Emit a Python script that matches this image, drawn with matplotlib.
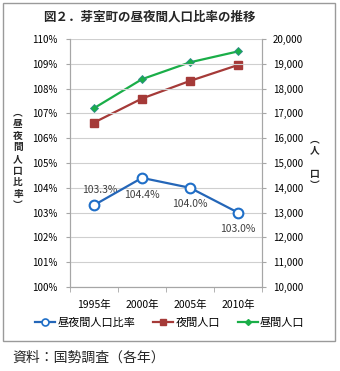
import numpy as np
import matplotlib
matplotlib.use('Agg')
import matplotlib.pyplot as plt
from matplotlib.patches import Rectangle
from matplotlib.lines import Line2D
from matplotlib.ticker import FuncFormatter

plt.rcParams['font.family'] = ['Noto Sans CJK JP', 'DejaVu Sans']

# 国勢調査 各年
years = ['1995年', '2000年', '2005年', '2010年']
ratio = [103.3, 104.4, 104.0, 103.0]          # 昼夜間人口比率 (%)
night_pop = [16630, 17600, 18310, 18950]      # 夜間人口
day_pop = [17210, 18380, 19060, 19500]        # 昼間人口

c_blue = '#2466B8'
c_red = '#A53A38'
c_green = '#1AAE48'
c_axis = '#A6A6A6'
c_grid = '#CFCFCF'

fig = plt.figure(figsize=(3.40, 3.71), dpi=100)

# 外枠
fig.patches.append(Rectangle((2.5 / 340, 1 - 341 / 371), 332 / 340, 338.5 / 371,
                             transform=fig.transFigure, fill=False,
                             edgecolor='#9A9A9A', lw=1.0))

ax = fig.add_axes([70 / 340, 84 / 371, 192 / 340, 248 / 371])
ax2 = ax.twinx()

x = np.arange(len(years))

# 左軸: 比率
ax.set_xlim(-0.5, len(years) - 0.5)
ax.set_ylim(100, 110)
ax.set_yticks(np.arange(100, 111, 1))
ax.yaxis.set_major_formatter(FuncFormatter(lambda v, p: '%d%%' % v))
ax.grid(axis='y', color=c_grid, lw=0.8)
ax.set_axisbelow(True)
ax.set_xticks(x)
ax.set_xticklabels(years, fontsize=7.5)
ax.set_xticks(np.arange(-0.5, len(years), 1), minor=True)
ax.tick_params(axis='x', which='major', length=0, pad=9)
ax.tick_params(axis='x', which='minor', length=3.5, color=c_axis)
ax.tick_params(axis='y', labelsize=7, length=3, color=c_axis, pad=6)

# 右軸: 人口
ax2.set_ylim(10000, 20000)
ax2.set_yticks(np.arange(10000, 20001, 1000))
ax2.yaxis.set_major_formatter(FuncFormatter(lambda v, p: '{:,.0f}'.format(v)))
ax2.tick_params(axis='y', labelsize=7, length=3, color=c_axis, pad=5)

for a in (ax, ax2):
    a.spines['top'].set_visible(False)
    for s in ('left', 'right', 'bottom'):
        a.spines[s].set_color(c_axis)
        a.spines[s].set_linewidth(0.8)

ax2.plot(x, night_pop, color=c_red, lw=1.6, marker='s', ms=5.5,
         mfc=c_red, mec=c_red, zorder=3)
ax2.plot(x, day_pop, color=c_green, lw=1.6, marker='D', ms=4.5,
         mfc=c_green, mec='#2E8B8B', mew=0.6, zorder=3)

# 比率は前面に
ax.set_zorder(ax2.get_zorder() + 1)
ax.patch.set_visible(False)
ax.plot(x, ratio, color=c_blue, lw=1.6, marker='o', ms=7,
        mfc='white', mec='#1F6FC8', mew=1.5, zorder=4)

offsets = [(4, 11), (0, -12), (0, -12), (0, -12)]
for xi, v, off in zip(x, ratio, offsets):
    ax.annotate('%.1f%%' % v, (xi, v), xytext=off, textcoords='offset points',
                ha='center', va='center', fontsize=7.5, color='#404040')

# 軸タイトル (縦書き)
fig.text(18 / 340, 1 - 159 / 371, '︵\n昼\n夜\n間\n人\n口\n比\n率\n︶',
         ha='center', va='center', fontsize=7, fontweight='bold',
         linespacing=1.2, color='#262626')
fig.text(315 / 340, 1 - 162 / 371, '︵\n人\n\u3000\n口\n︶',
         ha='center', va='center', fontsize=7, fontweight='bold',
         linespacing=1.2, color='#262626')

fig.text(43 / 340, 1 - 17.5 / 371, '図２．芽室町の昼夜間人口比率の推移',
         ha='left', va='center', fontsize=9, fontweight='bold', color='#262626')

handles = [
    Line2D([], [], color=c_blue, lw=1.6, marker='o', ms=5, mfc='white',
           mec='#1F6FC8', mew=1.2),
    Line2D([], [], color=c_red, lw=1.6, marker='s', ms=4, mfc=c_red, mec=c_red),
    Line2D([], [], color=c_green, lw=1.6, marker='D', ms=3, mfc=c_green,
           mec=c_green),
]
fig.legend(handles, ['昼夜間人口比率', '夜間人口', '昼間人口'], ncol=3,
           loc='center', bbox_to_anchor=(170 / 340, 1 - 323 / 371),
           frameon=False, fontsize=8, handlelength=1.8, handletextpad=0.2,
           columnspacing=1.6)

fig.text(12 / 340, 1 - 358 / 371, '資料：国勢調査（各年）',
         ha='left', va='center', fontsize=10, color='#262626')

fig.savefig('out.png', dpi=100)
